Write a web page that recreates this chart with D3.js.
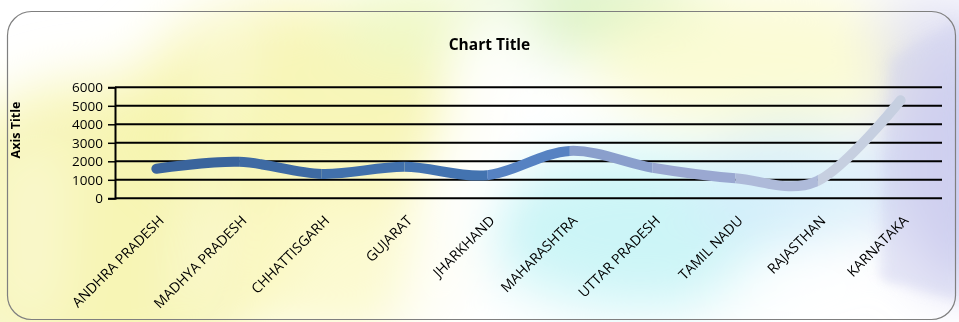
<!DOCTYPE html>
<html>
<head>
<meta charset="utf-8">
<script src="https://cdn.jsdelivr.net/npm/d3@7"></script>
<style>
  html, body { margin: 0; padding: 0; background: #fff; }
  svg { display: block; }
</style>
</head>
<body>
<svg id="chart" width="959" height="322"></svg>
<script>
// Values per state
const states = ["ANDHRA PRADESH", "MADHYA PRADESH", "CHHATTISGARH", "GUJARAT", "JHARKHAND",
                "MAHARASHTRA", "UTTAR PRADESH", "TAMIL NADU", "RAJASTHAN", "KARNATAKA"];
const values = [1600, 1970, 1320, 1700, 1250, 2560, 1650, 1080, 950, 5300];
const yTicks = [0, 1000, 2000, 3000, 4000, 5000, 6000];
// colour of the stretch of line that ends at each point (first entry unused)
const segmentColors = ["#3a639a", "#3a649c", "#3e6aa3", "#4170ab", "#4373b0",
                       "#5682c2", "#8a9fcc", "#9aa8d1", "#aebad9", "#c6cfe0"];

const W = 959, H = 322;
const margin = { left: 115, right: 17, top: 87.3, bottom: 123.7 };

const svg = d3.select("#chart");
const defs = svg.append("defs");

// ---------- soft pastel backdrop ----------
defs.append("filter").attr("id", "soft")
  .attr("x", "-50%").attr("y", "-50%").attr("width", "200%").attr("height", "200%")
  .append("feGaussianBlur").attr("stdDeviation", 28);

const grain = defs.append("filter").attr("id", "grain")
  .attr("x", "-50%").attr("y", "-50%").attr("width", "200%").attr("height", "200%");
grain.append("feTurbulence").attr("type", "fractalNoise").attr("baseFrequency", 0.9)
  .attr("numOctaves", 2).attr("result", "noise");
grain.append("feDisplacementMap").attr("in", "SourceGraphic").attr("in2", "noise")
  .attr("scale", 30).attr("result", "disp");
grain.append("feGaussianBlur").attr("in", "disp").attr("stdDeviation", 5);

const bg = svg.append("g");
bg.append("rect").attr("width", W).attr("height", H).attr("fill", "#ffffff");

const blobs = bg.append("g").attr("filter", "url(#soft)");
const blobData = [
  { cx: 110, cy: 230, rx: 190, ry: 150, fill: "#f6f3a8", o: 0.85 },
  { cx: 300, cy: 110, rx: 170, ry: 110, fill: "#f7f4ac", o: 0.85 },
  { cx: 330, cy: 250, rx: 120, ry: 90,  fill: "#fbf9c6", o: 0.8 },
  { cx: 420, cy: 25,  rx: 90,  ry: 45,  fill: "#eef8c6", o: 0.9 },
  { cx: 600, cy: 10,  rx: 120, ry: 45,  fill: "#d9f2c2", o: 0.9 },
  { cx: 760, cy: 60,  rx: 170, ry: 70,  fill: "#fbfbd0", o: 0.9 },
  { cx: 640, cy: 230, rx: 160, ry: 80,  fill: "#c6f4f6", o: 0.9 },
  { cx: 790, cy: 190, rx: 100, ry: 70,  fill: "#d4eefa", o: 0.8 },
  { cx: 965, cy: 150, rx: 75,  ry: 140, fill: "#c9caf0", o: 0.9 },
  { cx: 930, cy: 30,  rx: 60,  ry: 40,  fill: "#e2e2f4", o: 0.8 }
];
blobs.selectAll("ellipse").data(blobData).join("ellipse")
  .attr("cx", d => d.cx).attr("cy", d => d.cy)
  .attr("rx", d => d.rx).attr("ry", d => d.ry)
  .attr("fill", d => d.fill).attr("opacity", d => d.o);

// pale diagonal streaks
const streaks = bg.append("g").attr("filter", "url(#soft)").attr("fill", "#ffffff");
streaks.append("path").attr("d", "M470,0 L540,0 L460,322 L400,322 Z").attr("opacity", 0.85);
streaks.append("path").attr("d", "M225,0 L250,0 L200,322 L175,322 Z").attr("opacity", 0.55);
streaks.append("path").attr("d", "M700,322 L860,322 L880,260 L760,250 Z").attr("opacity", 0.8);
streaks.append("path").attr("d", "M0,150 L70,140 L60,322 L0,322 Z").attr("opacity", 0.35);

// grainy lavender edge on the right
bg.append("path").attr("filter", "url(#grain)")
  .attr("d", "M890,60 L959,20 L959,300 L880,280 Z")
  .attr("fill", "#cfd0ee").attr("opacity", 0.5);

// ---------- frame ----------
svg.append("rect")
  .attr("x", 7.5).attr("y", 11.5).attr("width", 948).attr("height", 308)
  .attr("rx", 24).attr("ry", 24)
  .attr("fill", "none").attr("stroke", "#7f7f7f").attr("stroke-width", 1.2);

// ---------- scales ----------
const x = d3.scaleBand().domain(states).range([margin.left, W - margin.right]).padding(0);
const xc = d => x(d) + x.bandwidth() / 2;
const y = d3.scaleLinear().domain([0, 6000]).range([H - margin.bottom, margin.top]);

const font = "'Open Sans', 'DejaVu Sans', sans-serif";

// ---------- gridlines ----------
svg.append("g").selectAll("line").data(yTicks).join("line")
  .attr("x1", margin.left).attr("x2", W - margin.right)
  .attr("y1", d => y(d)).attr("y2", d => y(d))
  .attr("stroke", "#000").attr("stroke-width", 2);

// ---------- y axis ----------
const yAxis = svg.append("g")
  .attr("transform", `translate(${margin.left},0)`)
  .call(d3.axisLeft(y).tickValues(yTicks).tickSize(7).tickPadding(5).tickFormat(d3.format("d")));
yAxis.select(".domain").attr("stroke", "#000").attr("stroke-width", 2);
yAxis.selectAll(".tick line").attr("stroke", "#000").attr("stroke-width", 1.5);
yAxis.selectAll(".tick text")
  .attr("font-family", font).attr("font-size", 13.5).attr("fill", "#000");

// ---------- x labels ----------
svg.append("g").selectAll("text").data(states).join("text")
  .attr("transform", d => `translate(${xc(d) + 8.5},${221.5}) rotate(-45)`)
  .attr("text-anchor", "end")
  .attr("font-family", font).attr("font-size", 14).attr("fill", "#000")
  .text(d => d);

// ---------- smoothed line, one colour per stretch ----------
const pts = states.map((s, i) => [xc(s), y(values[i])]);
const line = d3.line().curve(d3.curveCardinal.tension(0));
const pathD = line(pts);

for (let i = 1; i < states.length; i++) {
  const x0 = i === 1 ? 0 : pts[i - 1][0];
  const x1 = i === states.length - 1 ? W : pts[i][0];
  const id = "seg" + i;
  defs.append("clipPath").attr("id", id)
    .append("rect").attr("x", x0).attr("y", 0).attr("width", x1 - x0).attr("height", H);
  svg.append("path")
    .attr("d", pathD)
    .attr("clip-path", `url(#${id})`)
    .attr("fill", "none")
    .attr("stroke", segmentColors[i])
    .attr("stroke-width", 10)
    .attr("stroke-linecap", "round")
    .attr("stroke-linejoin", "round");
}

// ---------- titles ----------
svg.append("text")
  .attr("x", 489.5).attr("y", 50)
  .attr("text-anchor", "middle")
  .attr("font-family", font).attr("font-weight", "bold").attr("font-size", 15.5)
  .attr("fill", "#000")
  .text("Chart Title");

svg.append("text")
  .attr("transform", "translate(19.5,130) rotate(-90)")
  .attr("text-anchor", "middle")
  .attr("font-family", font).attr("font-weight", "bold").attr("font-size", 12.5)
  .attr("fill", "#000")
  .text("Axis Title");
</script>
</body>
</html>
